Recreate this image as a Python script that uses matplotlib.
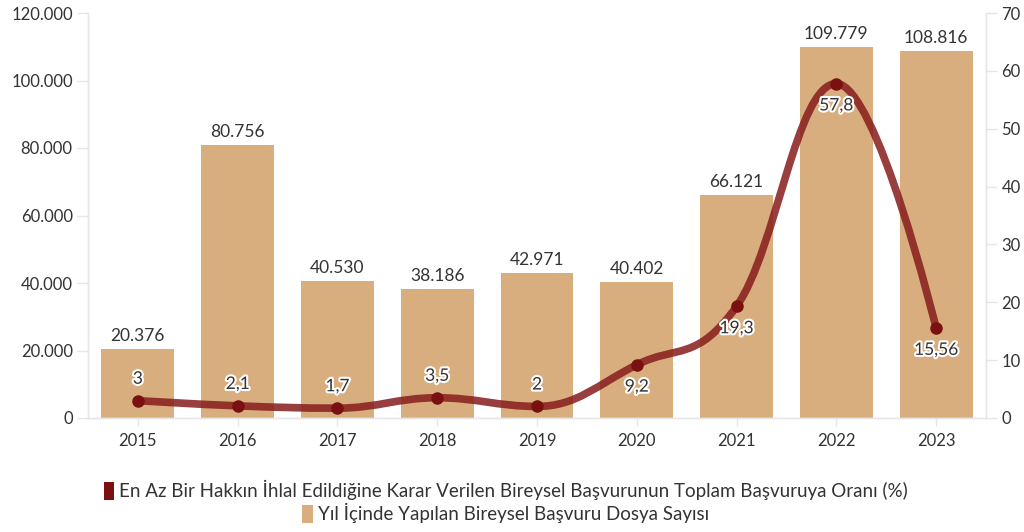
import matplotlib
matplotlib.use("Agg")
import matplotlib.pyplot as plt
import matplotlib.patheffects as pe
from matplotlib.path import Path
from matplotlib.patches import PathPatch, Patch
import numpy as np

plt.rcParams['font.family'] = ['Lato', 'DejaVu Sans']

# data
years = ['2015', '2016', '2017', '2018', '2019', '2020', '2021', '2022', '2023']
applications = [20376, 80756, 40530, 38186, 42971, 40402, 66121, 109779, 108816]
violation_rate = [3, 2.1, 1.7, 3.5, 2, 9.2, 19.3, 57.8, 15.56]
rate_labels = ['3', '2,1', '1,7', '3,5', '2', '9,2', '19,3', '57,8', '15,56']
label_below = [False, False, False, False, False, True, True, True, True]

bar_color = '#D9AE7E'
line_color = '#861C1C'
axis_color = '#E6E6E6'
text_color = '#333333'


def fmt_thousands(v):
    return f"{int(v):,}".replace(',', '.')


def spline_path(xs, ys, smoothing=1.5):
    # smooth curve through the points (cubic Bezier segments, flat at extremes)
    n = len(xs)
    left = [None] * n
    right = [None] * n
    denom = smoothing + 1
    for i in range(n):
        x, y = xs[i], ys[i]
        if i == 0 or i == n - 1:
            left[i] = (x, y)
            right[i] = (x, y)
            continue
        lx, ly = xs[i - 1], ys[i - 1]
        nx, ny = xs[i + 1], ys[i + 1]
        lcx = (smoothing * x + lx) / denom
        lcy = (smoothing * y + ly) / denom
        rcx = (smoothing * x + nx) / denom
        rcy = (smoothing * y + ny) / denom
        corr = (rcy - lcy) * (rcx - x) / (rcx - lcx) + y - rcy
        lcy += corr
        rcy += corr
        if lcy > ly and lcy > y:
            lcy = max(ly, y)
            rcy = 2 * y - lcy
        elif lcy < ly and lcy < y:
            lcy = min(ly, y)
            rcy = 2 * y - lcy
        if rcy > ny and rcy > y:
            rcy = max(ny, y)
            lcy = 2 * y - rcy
        elif rcy < ny and rcy < y:
            rcy = min(ny, y)
            lcy = 2 * y - rcy
        left[i] = (lcx, lcy)
        right[i] = (rcx, rcy)
    verts = [(xs[0], ys[0])]
    codes = [Path.MOVETO]
    for i in range(1, n):
        verts += [right[i - 1], left[i], (xs[i], ys[i])]
        codes += [Path.CURVE4] * 3
    return Path(verts, codes)


fig = plt.figure(figsize=(10.24, 5.32), dpi=100)
ax = fig.add_axes([88 / 1024, 1 - 418 / 532, 898 / 1024, 405 / 532])
ax2 = ax.twinx()

x = np.arange(len(years))
bars = ax.bar(x, applications, width=0.73, color=bar_color, zorder=2)
for xi, v in zip(x, applications):
    ax.text(xi, v + 1500, fmt_thousands(v), ha='center', va='bottom',
            fontsize=12.5, color=text_color)

ax.set_xlim(-0.5, len(years) - 0.5)
ax.set_ylim(0, 120000)
ax.set_yticks(np.arange(0, 120001, 20000))
ax.set_yticklabels([fmt_thousands(v) for v in np.arange(0, 120001, 20000)])
ax.set_xticks(x)
ax.set_xticklabels(years)

ax2.set_ylim(0, 70)
ax2.set_yticks(np.arange(0, 71, 10))

for a in (ax, ax2):
    for s in a.spines.values():
        s.set_color(axis_color)
        s.set_linewidth(1)
    a.spines['top'].set_visible(False)
    a.tick_params(colors=axis_color, labelcolor=text_color, labelsize=12, length=8, width=1)
ax.tick_params(axis='x', length=6, pad=5)
ax.tick_params(axis='y', pad=3)
ax2.tick_params(axis='y', pad=3)

path = spline_path(list(x.astype(float)), violation_rate)
ax2.add_patch(PathPatch(path, facecolor='none', edgecolor=line_color, lw=5.5,
                        alpha=0.85, capstyle='round', joinstyle='round', zorder=3))
ax2.plot(x, violation_rate, 'o', color='#7A1010', ms=8, zorder=4)

for xi, v, lab, below in zip(x, violation_rate, rate_labels, label_below):
    dy = -10 if below else 10
    ax2.annotate(lab, (xi, v), xytext=(0, dy), textcoords='offset points',
                 ha='center', va='top' if below else 'bottom', fontsize=12.5,
                 color=text_color, zorder=5,
                 path_effects=[pe.withStroke(linewidth=3, foreground='white')])

legend_items = [
    ('#7A1010', 'En Az Bir Hakkın İhlal Edildiğine Karar Verilen Bireysel Başvurunun Toplam Başvuruya Oranı (%)', 1 - 490 / 532),
    (bar_color, 'Yıl İçinde Yapılan Bireysel Başvuru Dosya Sayısı', 1 - 513 / 532),
]
for color, label, ypos in legend_items:
    fig.legend([Patch(facecolor=color, edgecolor='none')], [label],
               loc='center', bbox_to_anchor=(0.494, ypos), frameon=False,
               fontsize=13.5, handlelength=0.55, handleheight=1.1,
               handletextpad=0.3, borderpad=0, labelcolor=text_color)

fig.savefig('out.png', dpi=100)
